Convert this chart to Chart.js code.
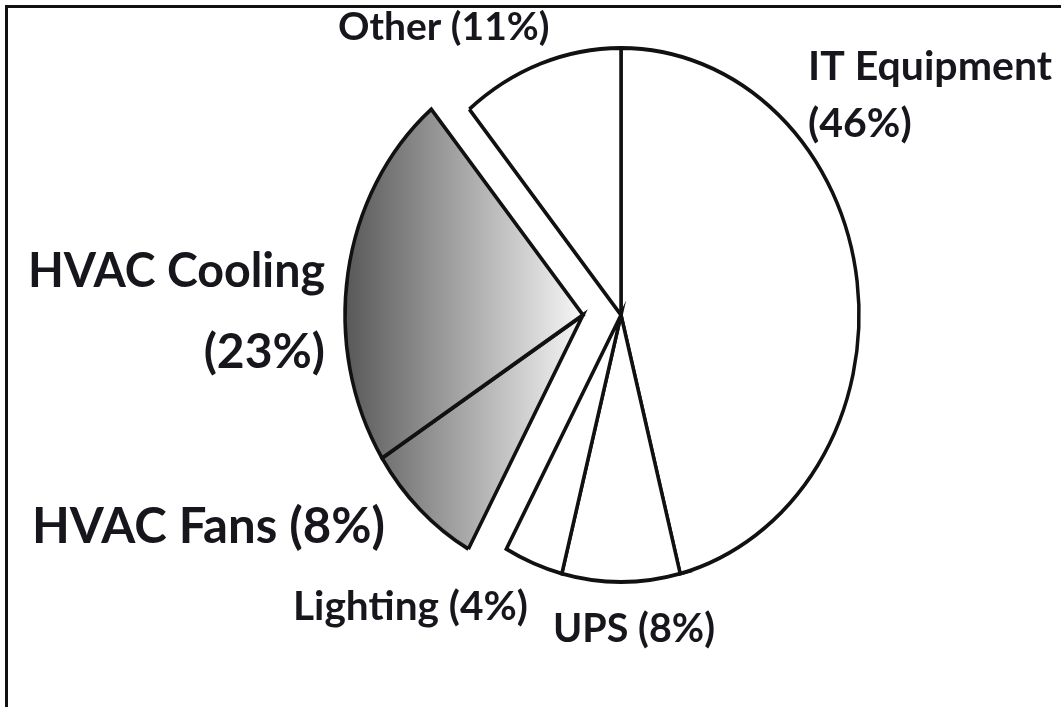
<!DOCTYPE html>
<html>
<head>
<meta charset="utf-8">
<script src="https://cdn.jsdelivr.net/npm/chart.js@4/dist/chart.umd.min.js"></script>
<style>
  html, body { margin: 0; padding: 0; background: #fff; }
  #wrap { width: 1061px; height: 707px; }
</style>
</head>
<body>
<div id="wrap"><canvas id="pieChart" width="1061" height="707"></canvas></div>
<script>
const categories = ['IT Equipment', 'UPS', 'Lighting', 'HVAC Fans', 'HVAC Cooling', 'Other'];
const shares = [46, 8, 4, 8, 23, 11];
const pulledOut = ['HVAC Fans', 'HVAC Cooling'];

// pie is drawn a bit taller than wide
const stretchY = 1.122;
const pieRadius = 238;
const pullShift = -38;

// where each label goes: line breaks, anchor and font size
const labelLayout = {
    'IT Equipment': { x: 808, y: 80, lh: 57, size: 41, align: 'left', split: true, w: [247, 104] },
    'UPS':          { x: 553, y: 642, size: 41, align: 'left', w: [162] },
    'Lighting':     { x: 293, y: 620, size: 41, align: 'left', w: [235] },
    'HVAC Fans':    { x: 32,  y: 543, size: 50, align: 'left', w: [353] },
    'HVAC Cooling': { x: 325, y: 287, lh: 81, size: 48, align: 'right', split: true, w: [297, 122] },
    'Other':        { x: 338, y: 40, size: 39, align: 'left', w: [220] }
};

function hvacGradient(context) {
    const chart = context.chart;
    const area = chart.chartArea;
    if (!area) return '#999';
    const cx = (area.left + area.right) / 2 + pullShift;
    const g = chart.ctx.createLinearGradient(cx - pieRadius, 0, cx, 0);
    g.addColorStop(0, '#585858');
    g.addColorStop(1, '#f7f7f7');
    return g;
}

const explodePlugin = {
    id: 'explode',
    afterDatasetUpdate(chart, args) {
        args.meta.data.forEach((arc, i) => {
            if (pulledOut.includes(categories[i])) arc.x += pullShift;
        });
    },
    beforeDatasetsDraw(chart) {
        const ctx = chart.ctx;
        const a = chart.chartArea;
        const cx = (a.left + a.right) / 2, cy = (a.top + a.bottom) / 2;
        ctx.save();
        ctx.translate(cx, cy);
        ctx.scale(1, stretchY);
        ctx.translate(-cx, -cy);
    },
    afterDatasetsDraw(chart) {
        chart.ctx.restore();
    }
};

const labelsPlugin = {
    id: 'sliceLabels',
    beforeDraw(chart) {
        const ctx = chart.ctx;
        ctx.save();
        ctx.fillStyle = '#fff';
        ctx.fillRect(0, 0, chart.width, chart.height);
        // frame edge on top and left
        ctx.strokeStyle = '#111';
        ctx.lineWidth = 3;
        ctx.beginPath();
        ctx.moveTo(6.5, chart.height);
        ctx.lineTo(6.5, 6.5);
        ctx.lineTo(chart.width, 6.5);
        ctx.stroke();
        ctx.restore();
    },
    afterDraw(chart) {
        const ctx = chart.ctx;
        ctx.save();
        ctx.fillStyle = '#16161c';
        ctx.textBaseline = 'alphabetic';
        categories.forEach((name, i) => {
            const L = labelLayout[name];
            const pct = '(' + shares[i] + '%)';
            const lines = L.split ? [name, pct] : [name + ' ' + pct];
            ctx.font = 'bold ' + L.size + 'px Lato, "Open Sans", sans-serif';
            ctx.textAlign = L.align;
            lines.forEach((t, k) => {
                ctx.fillText(t, L.x, L.y + k * (L.lh || 0), L.w[k]);
            });
        });
        ctx.restore();
    }
};

new Chart(document.getElementById('pieChart'), {
    type: 'pie',
    data: {
        labels: categories,
        datasets: [{
            data: shares,
            backgroundColor: ctx => pulledOut.includes(categories[ctx.dataIndex]) ? hvacGradient(ctx) : '#ffffff',
            borderColor: '#111',
            borderWidth: 3.5,
            borderJoinStyle: 'miter',
            clip: false
        }]
    },
    options: {
        responsive: false,
        animation: false,
        events: [],
        radius: pieRadius,
        layout: { padding: { left: 181, right: 0, top: 0, bottom: 77 } },
        plugins: {
            legend: { display: false },
            tooltip: { enabled: false }
        }
    },
    plugins: [explodePlugin, labelsPlugin]
});
</script>
</body>
</html>
